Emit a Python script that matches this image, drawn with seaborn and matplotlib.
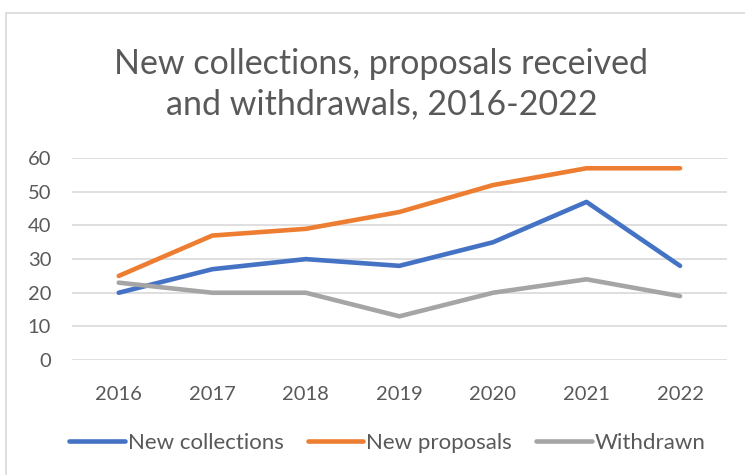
import matplotlib
matplotlib.use("Agg")
import matplotlib.pyplot as plt
from matplotlib.patches import Rectangle
import pandas as pd
import seaborn as sns

years = ["2016", "2017", "2018", "2019", "2020", "2021", "2022"]
new_collections = [20, 27, 30, 28, 35, 47, 28]
new_proposals = [25, 37, 39, 44, 52, 57, 57]
withdrawn = [23, 20, 20, 13, 20, 24, 19]
series_names = ["New collections", "New proposals", "Withdrawn"]
colors = ["#4472C4", "#ED7D31", "#A5A5A5"]

df = pd.DataFrame({
    "year": years * 3,
    "value": new_collections + new_proposals + withdrawn,
    "series": [s for s in series_names for _ in years],
})
df["x"] = df["year"].map({y: i for i, y in enumerate(years)})

sns.set_theme(style="white")
plt.rcParams["font.family"] = ["Lato", "DejaVu Sans"]
text_col = "#595959"

fig = plt.figure(figsize=(7.45, 4.75), dpi=100)
ax = fig.add_axes([0.0966, 0.242, 0.879, 0.425])

sns.lineplot(data=df, x="x", y="value", hue="series", palette=colors,
             hue_order=series_names, linewidth=3.3, ax=ax, legend=False,
             solid_capstyle="round")

ax.set_xlim(-0.5, 6.5)
ax.set_ylim(0, 60)
ax.set_yticks(range(0, 61, 10))
ax.set_xticks(range(len(years)))
ax.set_xticklabels(years)
ax.yaxis.grid(True, color="#D9D9D9", linewidth=1.2)
ax.set_axisbelow(True)
for s in ax.spines.values():
    s.set_visible(False)
ax.tick_params(axis="y", length=0, pad=15, labelsize=14.5, labelcolor=text_col)
ax.tick_params(axis="x", length=0, pad=19, labelsize=14.5, labelcolor=text_col)
ax.set_xlabel("")
ax.set_ylabel("")

fig.text(0.512, 0.823, "New collections, proposals received\nand withdrawals, 2016-2022",
         ha="center", va="center", fontsize=24.5, color=text_col, linespacing=1.3)

handles = [plt.Line2D([], [], color=c, linewidth=3.3, solid_capstyle="round") for c in colors]
fig.legend(handles, series_names, loc="center", bbox_to_anchor=(0.52, 0.067), ncol=3,
           frameon=False, fontsize=16, handlelength=2.5, handletextpad=0.12,
           columnspacing=1.1, labelcolor=text_col)

fig.patches.append(Rectangle((0.008, -0.05), 1.1, 1.023, transform=fig.transFigure,
                             fill=False, edgecolor="#D9D9D9", linewidth=1.2))

fig.savefig("out.png", dpi=100, facecolor="white")
